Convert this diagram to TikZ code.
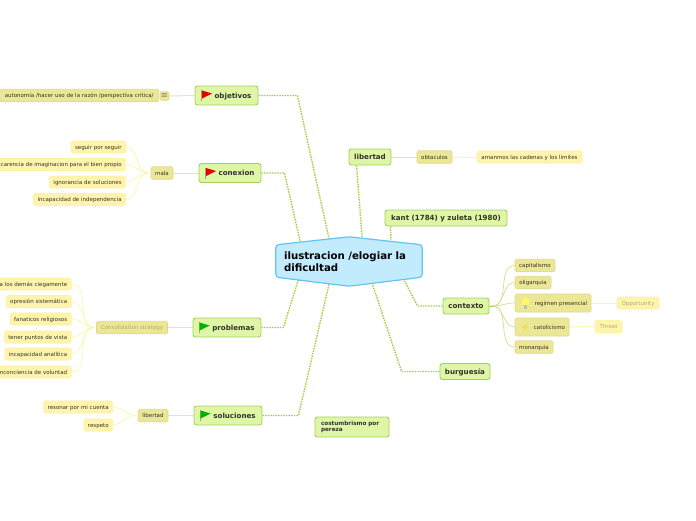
\documentclass[tikz,border=0pt]{standalone}
\usepackage{fontspec}
\setmainfont{DejaVu Sans}
\usetikzlibrary{backgrounds}
\definecolor{topicfill}{HTML}{DFF6A6}
\definecolor{topicline}{HTML}{A5D060}
\definecolor{hubfill}{HTML}{C3EBFE}
\definecolor{hubline}{HTML}{62C5EE}
\definecolor{branchfill}{HTML}{EBE795}
\definecolor{branchline}{HTML}{DDD98F}
\definecolor{leaffill}{HTML}{FFF4AC}
\definecolor{leafline}{HTML}{FFF1A2}
\definecolor{dotgreen}{HTML}{A6CE44}
\definecolor{stemline}{HTML}{E6E3B4}
\definecolor{inktext}{HTML}{33332A}
\definecolor{fadetext}{HTML}{B0AC72}
\definecolor{boltfill}{HTML}{F4DC62}
\newcommand{\flagmark}[2]{%
  \begin{scope}[shift={(#1)}]
    \draw[line width=1pt, color=black!25!branchline] (0,-5.5) -- (0,5.5);
    \fill[#2] (0.5,-5) -- (10.5,-2) -- (0.5,3) -- cycle;
  \end{scope}}
\begin{document}
\begin{tikzpicture}[x=1pt, y=-1pt, every node/.style={text=inktext}]
  \tikzstyle{topic}=[draw=topicline, line width=0.9pt, rounded corners=2.5pt, fill=topicfill, font=\fontsize{7.1}{8}\selectfont\bfseries, minimum height=19pt, inner xsep=3pt, inner ysep=0pt, text height=6pt, text depth=0.6pt]
  \tikzstyle{branch}=[draw=branchline, line width=0.7pt, rounded corners=1.5pt, fill=branchfill, font=\fontsize{5.5}{6}\selectfont, minimum height=12.5pt, inner xsep=2.5pt, inner ysep=0pt, text height=4.8pt, text depth=0.6pt]
  \tikzstyle{leafbox}=[draw=leafline, line width=0.7pt, rounded corners=1.5pt, fill=leaffill, font=\fontsize{5.5}{6}\selectfont, minimum height=12pt, inner xsep=4pt, inner ysep=0pt, text height=4.8pt, text depth=0.6pt]
  \tikzstyle{link}=[draw=dotgreen, line width=1.4pt, dash pattern=on 1.5pt off 1.1pt]
  \tikzstyle{stem}=[draw=stemline, line width=1pt]
  \tikzstyle{twig}=[draw=leaffill, line width=0.7pt]
  \tikzstyle{ctwig}=[draw=branchline, line width=0.7pt]
  \useasboundingbox (0,0) rectangle (696,520);

  % hub and main topics
  \node[minimum width=146pt, minimum height=49pt, inner xsep=8pt, text width=130pt, align=left, text=black, font=\fontsize{10.2}{12}\selectfont\bfseries] (hub) at (349,261.5) {ilustracion /elogiar la\\dificultad};
  \node[topic, minimum width=63pt] (objetivos) at (226.5,95.5) {\hspace*{13pt}objetivos};
  \node[topic, minimum width=62pt] (conexion) at (230,173) {\hspace*{13pt}conexion};
  \node[topic, minimum width=68pt] (problemas) at (227,327.5) {\hspace*{13pt}problemas};
  \node[topic, minimum width=68pt] (soluciones) at (228,415.5) {\hspace*{13pt}soluciones};
  \node[topic, minimum width=42pt, minimum height=16pt] (libertadtop) at (370,157) {libertad};
  \node[topic, minimum width=122pt, minimum height=16pt] (kant) at (446,218) {kant (1784) y zuleta (1980)};
  \node[topic, minimum width=46pt, minimum height=16pt] (contexto) at (466,306) {contexto};
  \node[topic, minimum width=50pt, minimum height=16pt] (burguesia) at (465,371.5) {burguesía};
  \node[topic, minimum width=74pt, minimum height=20pt, text width=62pt, inner xsep=6pt, align=left, text height=, text depth=, font=\fontsize{5.7}{6.8}\selectfont\bfseries] (costumbrismo) at (352,427) {costumbrismo por\\pereza};

  % objetivos
  \node[branch, minimum height=8.5pt, minimum width=9pt, inner xsep=0pt, text height=, text depth=, font=\fontsize{8}{8}\selectfont] (notes) at (164.5,96) {$\equiv$};
  \node[branch, anchor=east, minimum width=159pt] (autonomia) at (159,95.5) {autonomía /hacer uso de la razón /perspectiva crítica/};

  % conexion
  \node[branch, minimum width=22pt] (mala) at (162,173) {mala};
  \node[leafbox, anchor=east] (seguir) at (126,147) {seguir por seguir};
  \node[leafbox, anchor=east] (carencia) at (126,164.5) {carencia de imaginacion para el bien propio};
  \node[leafbox, anchor=east] (ignorancia) at (126,182) {ignorancia de soluciones};
  \node[leafbox, anchor=east] (independencia) at (126,199.5) {incapacidad de independencia};

  % problemas
  \node[branch, text=fadetext, minimum width=71pt] (consolidation) at (132,327.5) {Consolidation strategy};
  \node[leafbox, anchor=east] (ciegamente) at (71.5,284) {a los demás ciegamente};
  \node[leafbox, anchor=east] (opresion) at (71.5,301.5) {opresión sistemática};
  \node[leafbox, anchor=east] (fanaticos) at (71.5,319) {fanaticos religiosos};
  \node[leafbox, anchor=east] (puntos) at (71.5,337) {tener puntos de vista};
  \node[leafbox, anchor=east] (analitica) at (71.5,354) {incapacidad analítica};
  \node[leafbox, anchor=east] (voluntad) at (71.5,372) {nconciencia de voluntad};

  % soluciones
  \node[branch, minimum width=30pt] (libertadsol) at (153,415.5) {libertad};
  \node[leafbox, anchor=east] (resonar) at (113,407) {resonar por mi cuenta};
  \node[leafbox, anchor=east] (respeto) at (113,425) {respeto};

  % libertad
  \node[branch, minimum width=35pt] (obtaculos) at (434.5,157) {obtaculos};
  \node[leafbox, minimum width=105pt] (cadenas) at (529.5,157) {amanmos las cadenas y los limites};

  % contexto
  \node[branch, minimum width=40pt] (capitalismo) at (535,265.5) {capitalismo};
  \node[branch, minimum width=36pt] (oligarquia) at (533,282.5) {oligarquia};
  \node[branch, minimum width=76pt, minimum height=18pt] (regimen) at (553,303) {\hspace*{16pt}regimen presencial};
  \node[branch, minimum width=54pt, minimum height=18pt] (catolicismo) at (542,327) {\hspace*{15pt}catolicismo};
  \node[branch, minimum width=38pt] (monarquia) at (534,347) {monarquia};
  \node[leafbox, text=fadetext, minimum width=42pt] (opportunity) at (638,303) {Opportunity};
  \node[leafbox, text=fadetext, minimum width=27pt] (threat) at (608.5,326.5) {Threat};

  % icons
  \flagmark{[xshift=7pt]objetivos.west}{red!90!black}
  \flagmark{[xshift=7pt]conexion.west}{red!90!black}
  \flagmark{[xshift=6.5pt]problemas.west}{green!70!black}
  \flagmark{[xshift=6.5pt]soluciones.west}{green!70!black}
  \fill[leaffill!60!yellow] ([xshift=11pt, yshift=1.5pt]regimen.west) circle (4pt);
  \fill[black!25] ([xshift=9.5pt, yshift=-2pt]regimen.west) rectangle ([xshift=12.5pt, yshift=-6pt]regimen.west);
  \fill[boltfill] ([xshift=13pt, yshift=5pt]catolicismo.west) -- ([xshift=7pt, yshift=-1pt]catolicismo.west) -- ([xshift=10pt, yshift=-1pt]catolicismo.west) -- ([xshift=8pt, yshift=-5.5pt]catolicismo.west) -- ([xshift=14pt, yshift=1pt]catolicismo.west) -- ([xshift=11pt, yshift=1pt]catolicismo.west) -- cycle;

  \begin{pgfonlayer}{background}
    \draw[link] (objetivos.east) -- ++(39,0) -- ([xshift=-19.5pt, yshift=20.5pt]hub.center);
    \draw[link] (conexion.east) -- ++(23,0) -- ([xshift=-48pt, yshift=16.5pt]hub.center);
    \draw[link] (problemas.east) -- ++(22,0) -- ([xshift=-49.5pt, yshift=-14.5pt]hub.center);
    \draw[link] (soluciones.east) -- ++(36,0) -- ([xshift=-19pt, yshift=-18.5pt]hub.center);
    \draw[link] (libertadtop.south west) ++(8,0) -- ([xshift=13.3pt, yshift=21.5pt]hub.center);
    \draw[link] (kant.south west) ++(6,0) -- ([xshift=42pt, yshift=21.5pt]hub.center);
    \draw[link] (contexto.west) -- ++(-25,0) -- ([xshift=53pt, yshift=-14.5pt]hub.center);
    \draw[link] (burguesia.west) -- ++(-38,0) -- ([xshift=22pt, yshift=-18.5pt]hub.center);
    % hub outline
    \draw[draw=hubline, fill=hubfill, line width=1.2pt, rounded corners=3pt] ([yshift=-8pt]hub.north west) -- (hub.north) -- ([yshift=-8pt]hub.north east) -- ([yshift=9pt]hub.south east) -- (hub.south) -- ([yshift=9pt]hub.south west) -- cycle;
    % stems
    \draw[stem] (notes.east) -- (objetivos.west);
    \draw[stem] (mala.east) -- (conexion.west);
    \draw[stem] (consolidation.east) -- (problemas.west);
    \draw[stem] (libertadsol.east) -- (soluciones.west);
    \draw[stem] (libertadtop.east) -- (obtaculos.west);
    \draw[twig] (obtaculos.east) -- (cadenas.west);
    \draw[twig] (regimen.east) -- (opportunity.west);
    \draw[twig, line width=1pt] (catolicismo.east) -- (threat.west);
    \foreach \n in {seguir,carencia,ignorancia,independencia}
      \draw[twig] (\n.east) to[out=0, in=180] ([xshift=-2pt]mala.west);
    \foreach \n in {ciegamente,opresion,fanaticos,puntos,analitica,voluntad}
      \draw[twig] (\n.east) to[out=0, in=180] ([xshift=-2pt]consolidation.west);
    \foreach \n in {resonar,respeto}
      \draw[twig] (\n.east) to[out=0, in=180] ([xshift=-2pt]libertadsol.west);
    \foreach \n in {capitalismo,oligarquia,regimen,catolicismo,monarquia}
      \draw[ctwig] (contexto.east) ++(3,0) to[out=0, in=180] (\n.west);
    \draw[ctwig, line width=1pt, draw=dotgreen] (contexto.east) -- ++(4,0);
  \end{pgfonlayer}
\end{tikzpicture}
\end{document}
